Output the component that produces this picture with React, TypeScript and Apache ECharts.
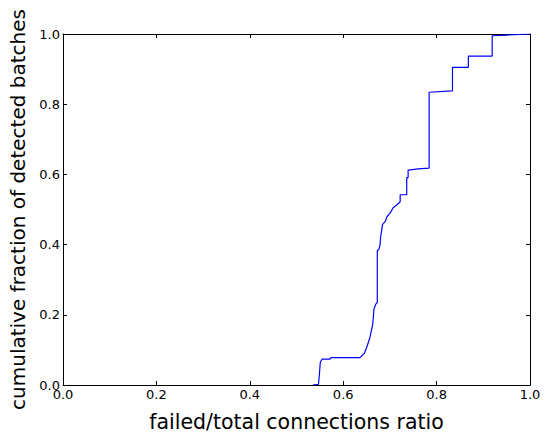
import React, { useEffect, useRef } from "react";
import * as echarts from "echarts";

const ratioX = [
  0.535, 0.547, 0.549, 0.551, 0.555, 0.572, 0.574, 0.636, 0.645, 0.65, 0.657, 0.663, 0.666, 0.67,
  0.673, 0.673, 0.676, 0.679, 0.68, 0.683, 0.684, 0.69, 0.694, 0.7, 0.707, 0.714, 0.722, 0.722,
  0.736, 0.736, 0.739, 0.739, 0.761, 0.784, 0.784, 0.834, 0.834, 0.868, 0.868, 0.919, 0.919, 0.95, 1.0,
];
const cumFrac = [
  0, 0.002, 0.03, 0.065, 0.074, 0.074, 0.078, 0.078, 0.09, 0.106, 0.134, 0.171, 0.217, 0.231,
  0.235, 0.383, 0.385, 0.4, 0.42, 0.446, 0.457, 0.466, 0.48, 0.489, 0.505, 0.512, 0.522, 0.542,
  0.542, 0.591, 0.591, 0.612, 0.616, 0.618, 0.834, 0.838, 0.905, 0.905, 0.937, 0.937, 0.995, 0.997, 1.0,
];
const xTitle = "failed/total connections ratio";
const yTitle = "cumulative fraction of detected batches";

const FONT = "DejaVu Sans";

const mkLine = () => ({ show: true, onZero: false, lineStyle: { color: "#000", width: 1 } });
const mkTick = () => ({ show: true, inside: true, length: 4, lineStyle: { color: "#000", width: 1 } });

export default function App() {
  const ref = useRef<HTMLDivElement>(null);
  useEffect(() => {
    if (!ref.current) return;
    const chart = echarts.init(ref.current, undefined, { renderer: "svg" });
    const mkLabel = (margin: number) => ({
      show: true,
      color: "#000",
      fontFamily: FONT,
      fontSize: 13,
      margin,
      formatter: (v: number) => v.toFixed(1),
    });
    chart.setOption({
      animation: false,
      backgroundColor: "#fff",
      grid: { left: 63, right: 16, top: 34, bottom: 42, containLabel: false },
      xAxis: [
        {
          type: "value",
          min: 0,
          max: 1,
          interval: 0.2,
          position: "bottom",
          axisLine: mkLine(),
          axisTick: mkTick(),
          axisLabel: mkLabel(3),
          splitLine: { show: false },
          name: xTitle,
          nameLocation: "middle",
          nameGap: 26,
          nameTextStyle: { fontFamily: FONT, fontSize: 20.5, color: "#000" },
        },
        {
          type: "value",
          min: 0,
          max: 1,
          interval: 0.2,
          position: "top",
          axisLine: mkLine(),
          axisTick: mkTick(),
          axisLabel: { show: false },
          splitLine: { show: false },
        },
      ],
      yAxis: [
        {
          type: "value",
          min: 0,
          max: 1,
          interval: 0.2,
          position: "left",
          axisLine: mkLine(),
          axisTick: mkTick(),
          axisLabel: mkLabel(3),
          splitLine: { show: false },
          name: yTitle,
          nameLocation: "middle",
          nameGap: 35,
          nameTextStyle: { fontFamily: FONT, fontSize: 20, color: "#000" },
        },
        {
          type: "value",
          min: 0,
          max: 1,
          interval: 0.2,
          position: "right",
          axisLine: mkLine(),
          axisTick: mkTick(),
          axisLabel: { show: false },
          splitLine: { show: false },
        },
      ],
      series: [
        {
          type: "line",
          xAxisIndex: 0,
          yAxisIndex: 0,
          data: ratioX.map((x, i) => [x, cumFrac[i]]),
          showSymbol: false,
          symbol: "none",
          lineStyle: { color: "#0000ff", width: 1.2 },
          clip: true,
        },
      ],
    });
    return () => chart.dispose();
  }, []);
  return (
    <div
      ref={ref}
      style={{ position: "fixed", left: 0, top: 0, width: 546, height: 437 }}
    />
  );
}
